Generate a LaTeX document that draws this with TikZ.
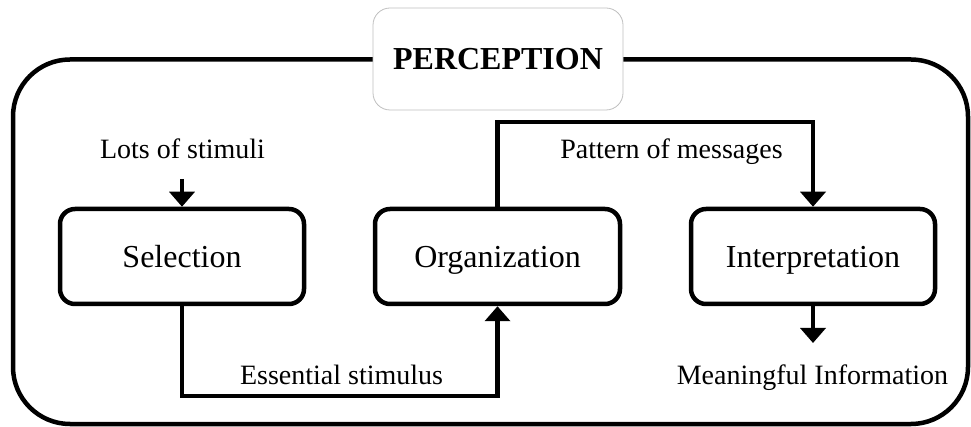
\documentclass[tikz,border=0pt]{standalone}
\usepackage{fontspec}
\setmainfont{Liberation Serif}
\usetikzlibrary{arrows.meta}
\begin{document}
\begin{tikzpicture}[x=1pt,y=-1pt,
  stage/.style={draw, line width=4.5pt, rounded corners=15pt, minimum width=244pt, minimum height=95pt, inner sep=0pt, font=\fontsize{32}{36}\selectfont, text height=22pt, text depth=0pt},
  lbl/.style={font=\fontsize{28}{32}\selectfont, inner sep=0pt, anchor=base},
  conn/.style={line width=4.5pt, -{Triangle[width=25pt,length=15pt]}},
  frame/.style={line width=4.5pt, rounded corners=57pt},
  titlebox/.style={draw=black!25, line width=0.8pt, fill=white, rounded corners=17pt, minimum width=250pt, minimum height=102pt, inner sep=0pt, font=\bfseries\fontsize{32}{36}\selectfont, text height=22pt, text depth=0pt}
]
\useasboundingbox (0,0) rectangle (971,427);
\draw[frame] (13,59.5) rectangle (968,424);
\node[titlebox] (title) at (498,59) {PERCEPTION};

\node[stage] (sel) at (182,256.5) {Selection};
\node[stage, minimum width=245pt] (org) at (497.5,256.5) {Organization};
\node[stage] (int) at (813,256.5) {Interpretation};

\node[lbl] (lots) at (182.5,159) {Lots of stimuli};
\node[lbl] (pat) at (671.5,159) {Pattern of messages};
\node[lbl] (ess) at (341.5,384) {Essential stimulus};
\node[lbl] (mean) at (812.5,384) {Meaningful Information};

\coordinate (lotsA) at (182,179);
\coordinate (meanA) at (813,343);
\coordinate (low) at (0,396);
\coordinate (high) at (0,122);

\draw[conn] (lotsA) -- (sel.north);
\draw[conn] (sel.south) -- (sel.south |- low) -| (org.south);
\draw[conn] (org.north) -- (org.north |- high) -| (int.north);
\draw[conn] (int.south) -- (meanA);
\end{tikzpicture}
\end{document}
